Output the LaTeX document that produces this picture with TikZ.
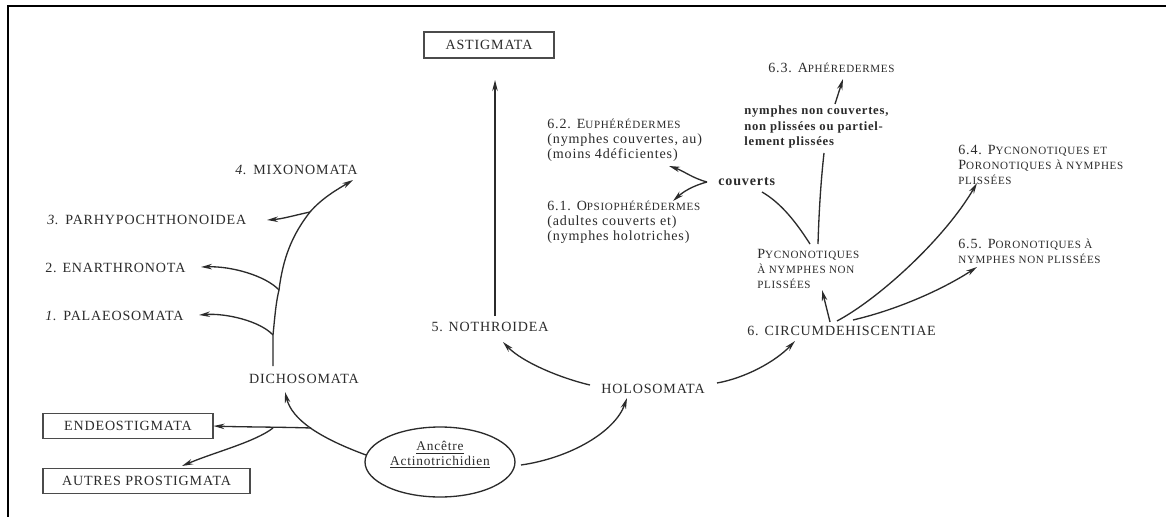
\documentclass[tikz,border=0pt]{standalone}
\usepackage{fontspec}
\setmainfont{Liberation Serif}[LetterSpace=6]
\usetikzlibrary{arrows.meta,shapes.geometric}
\definecolor{ink}{HTML}{2B2B2B}
\newcommand\smc[1]{{\fontsize{6.3}{8.6}\selectfont #1}}
\begin{document}
\begin{tikzpicture}[x=0.02cm,y=-0.02cm,
  lab/.style={inner sep=0pt, text=ink, font=\fontsize{8}{8.6}\selectfont, anchor=west, align=left},
  boldlab/.style={inner sep=0pt, text=ink, font=\fontsize{7.2}{8.6}\selectfont\bfseries, anchor=west, align=left},
  bx/.style={draw=ink!85, line width=0.6pt, inner sep=0pt, text=ink, font=\fontsize{8}{8.6}\selectfont, minimum height=0.5cm},
  arr/.style={draw=ink, line width=0.75pt, -{Stealth[length=2.2mm,width=1.1mm]}},
  ln/.style={draw=ink, line width=0.75pt}]
\useasboundingbox (0,0) rectangle (1166,517);
\fill[white] (0,0) rectangle (1166,517);
\draw[black, line width=1.5pt] (8,517) -- (8,6) -- (1166,6);

% ---------- left group ----------
\node[lab] (mix) at (235,170) {\textit{4.} MIXONOMATA};
\node[lab] (parhy) at (47,220) {\textit{3.} PARHYPOCHTHONOIDEA};
\node[lab] (enar) at (45,268) {2. ENARTHRONOTA};
\node[lab] (palae) at (45,316) {\textit{1.} PALAEOSOMATA};
\node[lab, anchor=center] (dicho) at (304,379) {DICHOSOMATA};

\coordinate (s0) at (273,366);
\coordinate (j1) at (273,335);
\coordinate (j2) at (279,290);
\coordinate (j3) at (310,212);
\draw[ln] (s0) -- (j1) .. controls (275,315) and (276,302) .. (j2)
          .. controls (283,258) and (292,235) .. (j3);
\coordinate (mixtip) at (353,180);
\coordinate (partip) at (267,220);
\coordinate (enatip) at (201,267);
\coordinate (paltip) at (199,315);
\draw[arr] (j3) .. controls (322,198) and (338,189) .. (mixtip);
\draw[arr] (j3) .. controls (296,215) and (282,219) .. (partip);
\draw[arr] (j2) .. controls (266,276) and (232,266) .. (enatip);
\draw[arr] (j1) .. controls (260,321) and (226,313) .. (paltip);

\node[bx, minimum width=3.4cm] (endeo) at (128,426) {ENDEOSTIGMATA};
\node[bx, minimum width=4.14cm] (autres) at (146.5,481) {AUTRES PROSTIGMATA};

\node[ellipse, draw=ink, line width=0.75pt, minimum width=3cm, minimum height=1.4cm] (anc) at (440,462) {};
\node[lab, anchor=center, align=center, font=\fontsize{7.6}{8.4}\selectfont] (ancT) at (440,455) {\underline{Ancêtre}\\\underline{Actinotrichidien}};

\coordinate (dstart) at (366,455);
\coordinate (dtip) at (285,392);
\coordinate (dj) at (311,428);
\coordinate (aj) at (273,428);
\coordinate (autip) at (182,466);
\draw[arr] (dstart) .. controls (320,438) and (292,420) .. (dtip);
\draw[arr] (dj) .. controls (280,427) and (240,427) .. (endeo.east);
\draw[arr] (aj) .. controls (255,442) and (215,452) .. (autip);

% ---------- middle ----------
\node[lab, anchor=center] (holo) at (653,389) {HOLOSOMATA};
\node[lab, anchor=center] (nothro) at (490,327) {5. NOTHROIDEA};
\node[bx, minimum width=2.6cm, minimum height=0.52cm] (astig) at (489,45) {ASTIGMATA};

\coordinate (hstart) at (521,465);
\coordinate (htip) at (627,398);
\draw[arr] (hstart) .. controls (570,458) and (615,432) .. (htip);
\coordinate (nstart) at (590,385);
\coordinate (ntip) at (503,342);
\draw[arr] (nstart) .. controls (560,378) and (522,362) .. (ntip);
\coordinate (astart) at (495,316);
\coordinate (atip) at (495,80);
\draw[arr] (astart) -- (atip);

% ---------- right group ----------
\node[lab] (circ) at (747,331) {6. CIRCUMDEHISCENTIAE};
\coordinate (cstart) at (717,383);
\coordinate (ctip) at (795,341);
\draw[arr] (cstart) .. controls (745,378) and (775,362) .. (ctip);

\node[lab] (pycno) at (757,269) {P\smc{YCNONOTIQUES}\\\smc{À NYMPHES NON}\\\smc{PLISSÉES}};
\coordinate (c1) at (830,322);
\coordinate (ptip) at (822,290);
\draw[arr] (c1) -- (ptip);

\node[lab] (s64) at (958,165) {6.4. P\smc{YCNONOTIQUES ET}\\P\smc{ORONOTIQUES À NYMPHES}\\\smc{PLISSÉES}};
\node[lab] (s65) at (958,251) {6.5. P\smc{ORONOTIQUES À}\\\smc{NYMPHES NON PLISSÉES}};
\coordinate (c2) at (837,321);
\coordinate (t64) at (977,183);
\coordinate (c3) at (853,320);
\coordinate (t65) at (977,267);
\draw[arr] (c2) .. controls (880,298) and (945,238) .. (t64);
\draw[arr] (c3) .. controls (900,309) and (945,288) .. (t65);

\node[lab] (couv) at (718,182) {\bfseries couverts};
\node[boldlab] (nonc) at (744,127) {nymphes non couvertes,\\non plissées ou partiel-\\lement plissées};
\node[lab] (s63) at (768,68) {6.3. A\smc{PHÉREDERMES}};
\node[lab] (s62) at (547,140) {6.2. E\smc{UPHÉRÉDERMES}\\(nymphes couvertes, au)\\(moins 4déficientes)};
\node[lab] (s61) at (547,222) {6.1. O\smc{PSIOPHÉRÉDERMES}\\(adultes couverts et)\\(nymphes holotriches)};

\coordinate (p1) at (810,244);
\coordinate (cv) at (762,192);
\draw[ln] (p1) .. controls (796,222) and (781,203) .. (cv);
\coordinate (p2) at (818,244);
\coordinate (nb) at (824,153);
\draw[ln] (p2) .. controls (819,210) and (821,180) .. (nb);
\coordinate (n3s) at (835,104);
\coordinate (n3t) at (843,79);
\draw[arr] (n3s) -- (n3t);

\coordinate (fk) at (707,182);
\coordinate (t62) at (669,166);
\coordinate (t61) at (673,201);
\draw[arr] (fk) .. controls (692,178) and (684,171) .. (t62);
\draw[arr] (fk) .. controls (692,186) and (683,192) .. (t61);
\end{tikzpicture}
\end{document}
